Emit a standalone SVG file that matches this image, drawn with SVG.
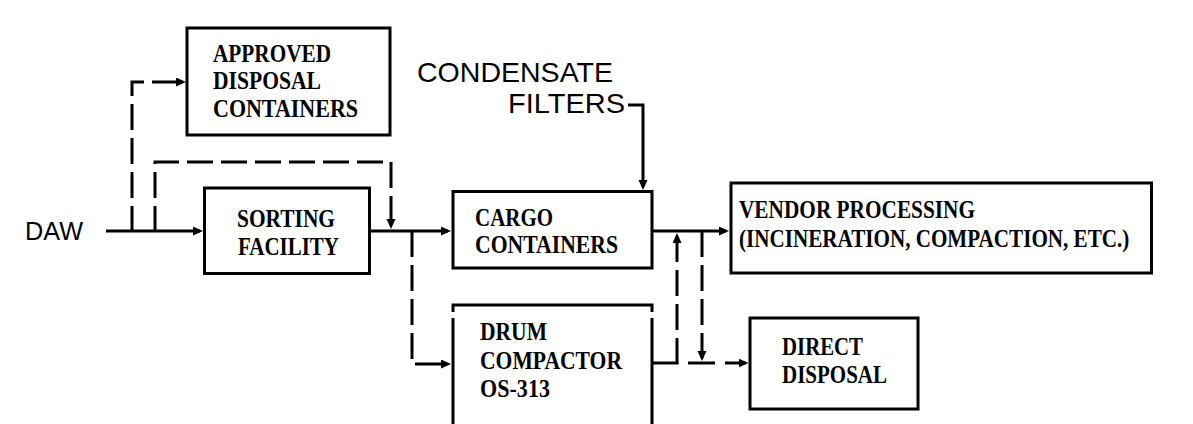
<svg xmlns="http://www.w3.org/2000/svg" width="1193" height="424" viewBox="0 0 1193 424">
<style>
.bg{fill:#fff}
.box{fill:none;stroke:#000;stroke-width:3}
.lbl{font-family:"Liberation Serif","Times New Roman",serif;font-weight:bold;font-size:25px;fill:#000}
.sans{font-family:"Liberation Sans",Arial,sans-serif;fill:#000}
.ln{fill:none;stroke:#000;stroke-width:3}
.dash{fill:none;stroke:#000;stroke-width:3;stroke-dasharray:26 8}
</style>
<defs>
<marker id="ah" markerUnits="userSpaceOnUse" markerWidth="11" markerHeight="10" refX="7" refY="4.5" orient="auto">
<path d="M0,0 L10,4.5 L0,9 z" fill="#000"/>
</marker>
</defs>
<rect class="bg" x="0" y="0" width="1193" height="424"/>
<g id="daw"><text class="sans" x="25" y="240" font-size="25" textLength="58" lengthAdjust="spacingAndGlyphs">DAW</text></g>
<g id="condensate">
<text class="sans" x="417" y="82" font-size="28" textLength="196" lengthAdjust="spacingAndGlyphs">CONDENSATE</text>
<text class="sans" x="508" y="113" font-size="28" textLength="117" lengthAdjust="spacingAndGlyphs">FILTERS</text>
</g>
<g id="approved">
<rect class="box" x="187" y="28" width="203" height="107"/>
<text class="lbl" x="213" y="62" textLength="118" lengthAdjust="spacingAndGlyphs">APPROVED</text>
<text class="lbl" x="213" y="89" textLength="108" lengthAdjust="spacingAndGlyphs">DISPOSAL</text>
<text class="lbl" x="213" y="117" textLength="145" lengthAdjust="spacingAndGlyphs">CONTAINERS</text>
</g>
<g id="sorting">
<rect class="box" x="204.5" y="188" width="165" height="85.5"/>
<text class="lbl" x="237" y="227" textLength="98" lengthAdjust="spacingAndGlyphs">SORTING</text>
<text class="lbl" x="238" y="255" textLength="101" lengthAdjust="spacingAndGlyphs">FACILITY</text>
</g>
<g id="cargo">
<rect class="box" x="453" y="191.5" width="199" height="76.5"/>
<text class="lbl" x="475" y="226" textLength="78" lengthAdjust="spacingAndGlyphs">CARGO</text>
<text class="lbl" x="475" y="253" textLength="143" lengthAdjust="spacingAndGlyphs">CONTAINERS</text>
</g>
<g id="vendor">
<rect class="box" x="731" y="183" width="420.5" height="90"/>
<text class="lbl" x="739" y="218" textLength="236" lengthAdjust="spacingAndGlyphs">VENDOR PROCESSING</text>
<text class="lbl" transform="translate(739,247) scale(0.845,1)" x="0" y="0">(INCINERATION, COMPACTION, ETC.)</text>
</g>
<g id="drum">
<path class="box" d="M453,312 V305 H652 V312"/>
<path class="box" d="M453,318 V426 M652,318 V426"/>
<text class="lbl" x="480" y="340" textLength="67" lengthAdjust="spacingAndGlyphs">DRUM</text>
<text class="lbl" x="480" y="369" textLength="142" lengthAdjust="spacingAndGlyphs">COMPACTOR</text>
<text class="lbl" x="480" y="397" textLength="70" lengthAdjust="spacingAndGlyphs">OS-313</text>
</g>
<g id="direct">
<rect class="box" x="750" y="318" width="168" height="91"/>
<text class="lbl" x="782" y="355" textLength="81" lengthAdjust="spacingAndGlyphs">DIRECT</text>
<text class="lbl" x="782" y="383" textLength="105" lengthAdjust="spacingAndGlyphs">DISPOSAL</text>
</g>
<g id="connectors">
<path class="ln" d="M106,231 H200" marker-end="url(#ah)"/>
<path class="dash" d="M132,232 V82 H183" marker-end="url(#ah)"/>
<path class="dash" d="M155,232 V162 H391 V226" marker-end="url(#ah)"/>
<path class="ln" d="M369,231 H448" marker-end="url(#ah)"/>
<path class="dash" d="M412,231 V364 H448" marker-end="url(#ah)"/>
<path class="ln" d="M628,105 H643 V187" marker-end="url(#ah)"/>
<path class="ln" d="M652,231 H726" marker-end="url(#ah)"/>
<path class="ln" d="M652,363 H678.5"/>
<path class="dash" d="M677,364 V236" marker-end="url(#ah)"/>
<path class="dash" d="M702,231 V358" marker-end="url(#ah)"/>
<path class="ln" d="M688,363 H715"/>
<path class="ln" d="M725,363 H745.5" marker-end="url(#ah)"/>
</g>
</svg>
